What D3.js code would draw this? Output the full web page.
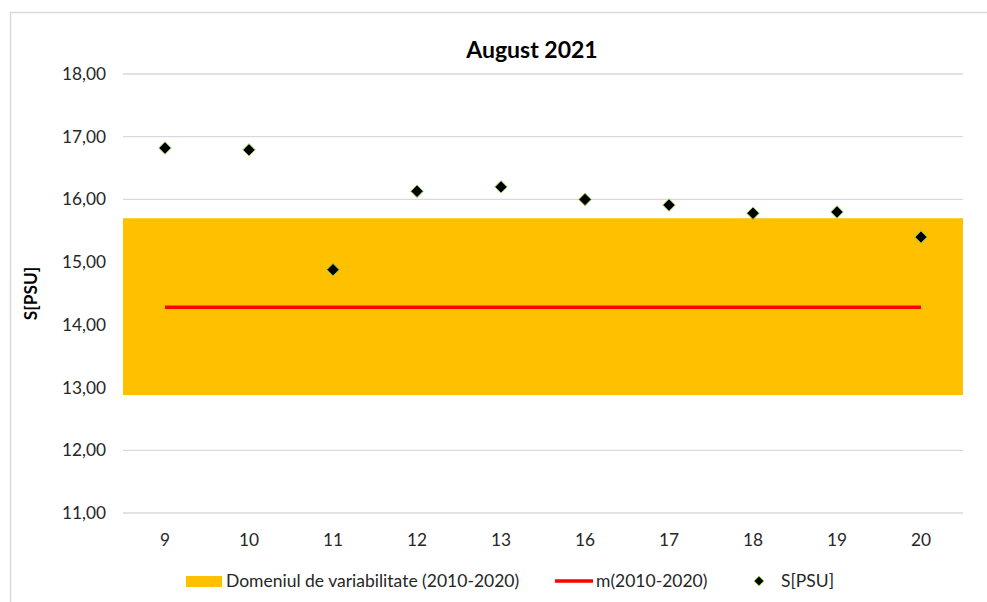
<!DOCTYPE html>
<html><head><meta charset="utf-8">
<script src="https://cdn.jsdelivr.net/npm/d3@7"></script>
<style>body{margin:0;background:#fff}svg{display:block}text{font-family:Lato,"Open Sans",sans-serif}</style>
</head><body>
<svg id="c" width="987" height="602"></svg>
<script>
const categories = ["9","10","11","12","13","16","17","18","19","20"];
const salinity = [16.82, 16.79, 14.88, 16.13, 16.20, 16.00, 15.91, 15.78, 15.80, 15.40];
const meanValue = [14.28, 14.28, 14.28, 14.28, 14.28, 14.28, 14.28, 14.28, 14.28, 14.28];
const bandLow = 12.88, bandHigh = 15.70;
const yTicks = [11, 12, 13, 14, 15, 16, 17, 18];
const title = "August 2021";
const yLabel = "S[PSU]";
const legendLabels = ["Domeniul de variabilitate (2010-2020)", "m(2010-2020)", "S[PSU]"];

const svg = d3.select("#c");
const L = 123, R = 963, T = 74, B = 513;
const x = d3.scaleBand().domain(categories).range([L, R]);
const y = d3.scaleLinear().domain([11, 18]).range([B, T]);

// chart border
svg.append("path").attr("d", `M10.5,602 V12.5 H987`).attr("fill","none").attr("stroke","#d9d9d9").attr("stroke-width",1.5);

// gridlines
svg.append("g").selectAll("line").data(yTicks).join("line")
  .attr("x1", L).attr("x2", R).attr("y1", d => y(d)).attr("y2", d => y(d))
  .attr("stroke", "#d9d9d9").attr("stroke-width", 1.3);

// band
svg.append("rect").attr("x", L).attr("width", R - L)
  .attr("y", y(bandHigh)).attr("height", y(bandLow) - y(bandHigh)).attr("fill", "#ffc000");

// mean line
const line = d3.line().x((d, i) => x(categories[i]) + x.bandwidth() / 2).y(d => y(d));
svg.append("path").datum(meanValue).attr("d", line).attr("fill", "none").attr("stroke", "#ff0000").attr("stroke-width", 3.5);

// points
const diamond = d3.symbol().type(d3.symbolDiamond2).size(98);
svg.append("g").selectAll("path").data(salinity).join("path")
  .attr("transform", (d, i) => `translate(${x(categories[i]) + x.bandwidth() / 2},${y(d)})`)
  .attr("d", diamond).attr("fill", "#000").attr("stroke", "#92d050").attr("stroke-width", 1);

// y axis labels
const fmt = d => d.toFixed(2).replace(".", ",");
svg.append("g").selectAll("text").data(yTicks).join("text")
  .attr("x", 106).attr("y", d => y(d)).attr("dy", "0.35em").attr("text-anchor", "end")
  .attr("font-size", 17.3).attr("fill", "#262626").text(fmt);

// x axis labels
svg.append("g").selectAll("text").data(categories).join("text")
  .attr("x", d => x(d) + x.bandwidth() / 2).attr("y", 540).attr("dy", "0.35em").attr("text-anchor", "middle")
  .attr("font-size", 17.3).attr("fill", "#262626").text(d => d);

// title
svg.append("text").attr("x", 532).attr("y", 58).attr("text-anchor", "middle")
  .attr("font-size", 23).attr("font-weight", "bold").attr("fill", "#000").text(title);

// y label
svg.append("text").attr("transform", `translate(37,${(T + B) / 2}) rotate(-90)`).attr("text-anchor", "middle")
  .attr("font-size", 17.3).attr("font-weight", "bold").attr("fill", "#000").text(yLabel);

// legend
const lg = svg.append("g").attr("font-size", 17.5).attr("fill", "#262626");
lg.append("rect").attr("x", 186).attr("y", 576).attr("width", 36).attr("height", 11).attr("fill", "#ffc000");
lg.append("text").attr("x", 226).attr("y", 581).attr("dy", "0.35em").text(legendLabels[0]);
lg.append("line").attr("x1", 555).attr("x2", 593).attr("y1", 581).attr("y2", 581).attr("stroke", "#ff0000").attr("stroke-width", 3.5);
lg.append("text").attr("x", 596).attr("y", 581).attr("dy", "0.35em").text(legendLabels[1]);
lg.append("path").attr("transform", "translate(759,581)").attr("d", d3.symbol().type(d3.symbolDiamond2).size(60)).attr("fill", "#000").attr("stroke", "#92d050").attr("stroke-width", 1);
lg.append("text").attr("x", 781).attr("y", 581).attr("dy", "0.35em").text(legendLabels[2]);
</script>
</body></html>
